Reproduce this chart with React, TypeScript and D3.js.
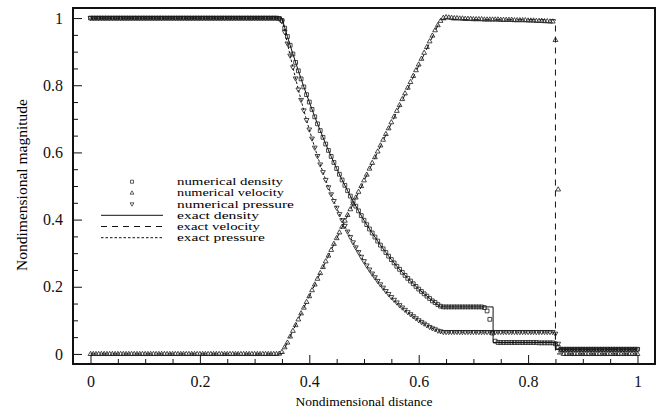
import React, { useEffect, useRef } from "react";
import * as d3 from "d3";

// numerical solution, one value per cell, cells every 0.005 from x = 0 to x = 1
const GRID_STEP = 0.005;

const numericalDensity = [
  1, 1, 1, 1, 1, 1, 1, 1, 1, 1,
  1, 1, 1, 1, 1, 1, 1, 1, 1, 1,
  1, 1, 1, 1, 1, 1, 1, 1, 1, 1,
  1, 1, 1, 1, 1, 1, 1, 1, 1, 1,
  1, 1, 1, 1, 1, 1, 1, 1, 1, 1,
  1, 1, 1, 1, 1, 1, 1, 1, 1, 1,
  1, 1, 1, 1, 1, 1, 1, 1, 1, 0.999,
  0.993, 0.970, 0.945, 0.919, 0.893, 0.868, 0.843, 0.819, 0.795, 0.772,
  0.750, 0.728, 0.706, 0.685, 0.665, 0.645, 0.625, 0.606, 0.588, 0.570,
  0.552, 0.535, 0.518, 0.502, 0.486, 0.470, 0.455, 0.440, 0.426, 0.412,
  0.398, 0.385, 0.372, 0.360, 0.348, 0.336, 0.324, 0.313, 0.302, 0.291,
  0.281, 0.271, 0.261, 0.252, 0.243, 0.234, 0.225, 0.217, 0.209, 0.201,
  0.193, 0.186, 0.179, 0.172, 0.165, 0.158, 0.153, 0.147, 0.142, 0.140,
  0.140, 0.140, 0.140, 0.140, 0.140, 0.140, 0.140, 0.140, 0.140, 0.140,
  0.140, 0.140, 0.140, 0.140, 0.138, 0.128, 0.103, 0.062, 0.038, 0.034,
  0.034, 0.034, 0.034, 0.034, 0.034, 0.034, 0.034, 0.034, 0.034, 0.034,
  0.034, 0.034, 0.034, 0.034, 0.033, 0.033, 0.033, 0.033, 0.033, 0.033,
  0.030, 0.020, 0.014, 0.014, 0.014, 0.014, 0.014, 0.014, 0.014, 0.014,
  0.014, 0.014, 0.014, 0.014, 0.014, 0.014, 0.014, 0.014, 0.014, 0.014,
  0.014, 0.014, 0.014, 0.014, 0.014, 0.014, 0.014, 0.014, 0.014, 0.014,
  0.014,
];

const numericalVelocity = [
  0, 0, 0, 0, 0, 0, 0, 0, 0, 0,
  0, 0, 0, 0, 0, 0, 0, 0, 0, 0,
  0, 0, 0, 0, 0, 0, 0, 0, 0, 0,
  0, 0, 0, 0, 0, 0, 0, 0, 0, 0,
  0, 0, 0, 0, 0, 0, 0, 0, 0, 0,
  0, 0, 0, 0, 0, 0, 0, 0, 0, 0,
  0, 0, 0, 0, 0, 0, 0, 0, 0, 0.001,
  0.006, 0.020, 0.034, 0.052, 0.069, 0.086, 0.103, 0.121, 0.138, 0.155,
  0.172, 0.190, 0.207, 0.224, 0.241, 0.259, 0.276, 0.293, 0.310, 0.328,
  0.345, 0.362, 0.379, 0.397, 0.414, 0.431, 0.448, 0.466, 0.483, 0.500,
  0.517, 0.534, 0.552, 0.569, 0.586, 0.603, 0.621, 0.638, 0.655, 0.672,
  0.690, 0.707, 0.724, 0.741, 0.759, 0.776, 0.793, 0.810, 0.828, 0.845,
  0.862, 0.879, 0.897, 0.914, 0.931, 0.948, 0.964, 0.979, 0.992, 1.001,
  1.003, 1.002, 1.001, 1.000, 1.000, 0.999, 0.999, 0.998, 0.998, 0.998,
  0.997, 0.997, 0.997, 0.997, 0.996, 0.996, 0.996, 0.996, 0.996, 0.996,
  0.995, 0.995, 0.995, 0.995, 0.995, 0.994, 0.994, 0.994, 0.994, 0.994,
  0.993, 0.993, 0.993, 0.992, 0.992, 0.992, 0.991, 0.991, 0.990, 0.990,
  0.935, 0.490, 0.010, 0, 0, 0, 0, 0, 0, 0,
  0, 0, 0, 0, 0, 0, 0, 0, 0, 0,
  0, 0, 0, 0, 0, 0, 0, 0, 0, 0,
  0,
];

const numericalPressure = [
  1, 1, 1, 1, 1, 1, 1, 1, 1, 1,
  1, 1, 1, 1, 1, 1, 1, 1, 1, 1,
  1, 1, 1, 1, 1, 1, 1, 1, 1, 1,
  1, 1, 1, 1, 1, 1, 1, 1, 1, 1,
  1, 1, 1, 1, 1, 1, 1, 1, 1, 1,
  1, 1, 1, 1, 1, 1, 1, 1, 1, 1,
  1, 1, 1, 1, 1, 1, 1, 1, 1, 0.998,
  0.990, 0.958, 0.924, 0.888, 0.853, 0.820, 0.787, 0.756, 0.725, 0.696,
  0.668, 0.641, 0.614, 0.589, 0.564, 0.541, 0.518, 0.496, 0.475, 0.455,
  0.435, 0.416, 0.398, 0.381, 0.364, 0.348, 0.332, 0.317, 0.303, 0.289,
  0.276, 0.263, 0.251, 0.239, 0.228, 0.217, 0.207, 0.197, 0.187, 0.178,
  0.169, 0.161, 0.153, 0.145, 0.138, 0.131, 0.124, 0.118, 0.112, 0.106,
  0.100, 0.095, 0.090, 0.085, 0.080, 0.076, 0.073, 0.069, 0.067, 0.065,
  0.065, 0.065, 0.065, 0.065, 0.065, 0.065, 0.065, 0.065, 0.065, 0.065,
  0.065, 0.065, 0.065, 0.065, 0.065, 0.065, 0.065, 0.065, 0.065, 0.065,
  0.065, 0.065, 0.065, 0.065, 0.065, 0.065, 0.065, 0.065, 0.065, 0.065,
  0.065, 0.065, 0.065, 0.065, 0.065, 0.065, 0.065, 0.065, 0.065, 0.065,
  0.060, 0.030, 0.013, 0.013, 0.013, 0.013, 0.013, 0.013, 0.013, 0.013,
  0.013, 0.013, 0.013, 0.013, 0.013, 0.013, 0.013, 0.013, 0.013, 0.013,
  0.013, 0.013, 0.013, 0.013, 0.013, 0.013, 0.013, 0.013, 0.013, 0.013,
  0.013,
];

// exact solution, as [x, value] breakpoints
const exactDensity = [
  [0, 1], [0.35, 1], [0.36, 0.945], [0.37, 0.893], [0.38, 0.843], [0.39, 0.795],
  [0.40, 0.750], [0.41, 0.706], [0.42, 0.665], [0.43, 0.625], [0.44, 0.588],
  [0.45, 0.552], [0.46, 0.518], [0.47, 0.486], [0.48, 0.455], [0.49, 0.426],
  [0.50, 0.398], [0.51, 0.372], [0.52, 0.348], [0.53, 0.324], [0.54, 0.302],
  [0.55, 0.281], [0.56, 0.261], [0.57, 0.243], [0.58, 0.225], [0.59, 0.209],
  [0.60, 0.193], [0.61, 0.179], [0.62, 0.165], [0.63, 0.152], [0.64, 0.140],
  [0.736, 0.140], [0.736, 0.034], [0.85, 0.034], [0.85, 0.014], [1, 0.014],
];

const exactVelocity = [
  [0, 0], [0.35, 0], [0.64, 0.995], [0.85, 0.995], [0.85, 0], [1, 0],
];

const exactPressure = [
  [0, 1], [0.35, 1], [0.36, 0.924], [0.37, 0.853], [0.38, 0.787], [0.39, 0.725],
  [0.40, 0.668], [0.41, 0.614], [0.42, 0.564], [0.43, 0.518], [0.44, 0.475],
  [0.45, 0.435], [0.46, 0.398], [0.47, 0.364], [0.48, 0.332], [0.49, 0.303],
  [0.50, 0.276], [0.51, 0.251], [0.52, 0.228], [0.53, 0.207], [0.54, 0.187],
  [0.55, 0.169], [0.56, 0.153], [0.57, 0.138], [0.58, 0.124], [0.59, 0.112],
  [0.60, 0.100], [0.61, 0.090], [0.62, 0.080], [0.63, 0.072], [0.64, 0.065],
  [0.85, 0.065], [0.85, 0.013], [1, 0.013],
];

const xTicks = [0, 0.2, 0.4, 0.6, 0.8, 1];
const yTicks = [0, 0.2, 0.4, 0.6, 0.8, 1];
const xTickLabels = ["0", "0.2", "0.4", "0.6", "0.8", "1"];
const yTickLabels = ["0", "0.2", "0.4", "0.6", "0.8", "1"];
const minorTicks = [0.05, 0.1, 0.15, 0.25, 0.3, 0.35, 0.45, 0.5, 0.55, 0.65, 0.7, 0.75, 0.85, 0.9, 0.95];

const markerLabels = ["numerical density", "numerical velocity", "numerical pressure"];
const lineLabels = ["exact density", "exact velocity", "exact pressure"];
// label widths in the figure (the scanned text is wide and short)
const markerLabelWidths = [106, 107, 117];
const lineLabelWidths = [82, 83, 88];

const FONT = "Liberation Serif, Times New Roman, serif";

const square = "M-1.9,-1.9H1.9V1.9H-1.9Z";
const triUp = "M0,-2.6L2.4,1.6L-2.4,1.6Z";
const triDown = "M0,2.6L2.4,-1.6L-2.4,-1.6Z";

const App = () => {
  const svgRef = useRef();

  useEffect(() => {
    const svg = d3.select(svgRef.current);
    svg.selectAll("*").remove();

    const left = 73, right = 655, top = 8, bottom = 364;
    const x = d3.scaleLinear().domain([-0.032, 1.032]).range([left, right]);
    const y = d3.scaleLinear().domain([-0.03, 1.03]).range([bottom, top]);

    // exact lines
    const line = d3.line().x(d => x(d[0])).y(d => y(d[1]));
    const exact = [
      { data: exactDensity, dash: null },
      { data: exactVelocity, dash: "6,5" },
      { data: exactPressure, dash: "2.5,2" },
    ];
    exact.forEach(e => {
      svg.append("path")
        .attr("d", line(e.data))
        .attr("fill", "none")
        .attr("stroke", "#111")
        .attr("stroke-width", 1)
        .attr("stroke-dasharray", e.dash);
    });

    // numerical markers
    const series = [
      { values: numericalDensity, shape: square },
      { values: numericalVelocity, shape: triUp },
      { values: numericalPressure, shape: triDown },
    ];
    series.forEach(s => {
      svg.append("g")
        .selectAll("path")
        .data(s.values)
        .join("path")
        .attr("d", s.shape)
        .attr("transform", (d, i) => `translate(${x(i * GRID_STEP)},${y(d)})`)
        .attr("fill", "none")
        .attr("stroke", "#1a1a1a")
        .attr("stroke-width", 0.8);
    });

    // axes
    const xMinor = svg.append("g").attr("transform", `translate(0,${bottom})`)
      .call(d3.axisBottom(x).tickValues(minorTicks).tickSize(-5).tickFormat(""));
    const xMajor = svg.append("g").attr("transform", `translate(0,${bottom})`)
      .call(d3.axisBottom(x).tickValues(xTicks).tickSize(-9).tickPadding(12)
        .tickFormat((d, i) => xTickLabels[i]));
    const yMinor = svg.append("g").attr("transform", `translate(${left},0)`)
      .call(d3.axisLeft(y).tickValues(minorTicks).tickSize(-5).tickFormat(""));
    const yMajor = svg.append("g").attr("transform", `translate(${left},0)`)
      .call(d3.axisLeft(y).tickValues(yTicks).tickSize(-9).tickPadding(10)
        .tickFormat((d, i) => yTickLabels[i]));

    [xMinor, xMajor, yMinor, yMajor].forEach(g => {
      g.select(".domain").remove();
      g.selectAll("line").attr("stroke", "#111").attr("stroke-width", 1);
      g.attr("font-family", FONT).attr("font-size", 16);
      g.selectAll("text").attr("fill", "#111");
    });

    // frame
    svg.append("rect")
      .attr("x", left).attr("y", top)
      .attr("width", right - left).attr("height", bottom - top)
      .attr("fill", "none")
      .attr("stroke", "#111")
      .attr("stroke-width", 2);

    // axis titles
    svg.append("text")
      .attr("x", 364).attr("y", 406)
      .attr("text-anchor", "middle")
      .attr("font-family", FONT).attr("font-size", 13.5)
      .text("Nondimensional distance");
    svg.append("text")
      .attr("transform", "translate(27,185) rotate(-90)")
      .attr("text-anchor", "middle")
      .attr("font-family", FONT).attr("font-size", 15.5)
      .text("Nondimensional magnitude");

    // legend
    const rowY = i => 181.7 + i * 11.2;
    const textX = 177;
    const legendShapes = [square, triUp, triDown];
    const legendText = (label, i, w) => {
      const t = svg.append("text")
        .attr("font-family", FONT).attr("font-size", 10)
        .text(label);
      // stretch horizontally to the width the label has in the figure
      const len = t.node().getComputedTextLength() || w;
      t.attr("transform", `translate(${textX},${rowY(i) + 3.4}) scale(${w / len},1)`);
    };

    markerLabels.forEach((label, i) => {
      svg.append("path")
        .attr("d", legendShapes[i])
        .attr("transform", `translate(132,${rowY(i)}) scale(0.8)`)
        .attr("fill", "none").attr("stroke", "#222").attr("stroke-width", 0.9);
      legendText(label, i, markerLabelWidths[i]);
    });
    const legendDash = [null, "6,5", "2.5,2"];
    lineLabels.forEach((label, j) => {
      const i = j + 3;
      svg.append("line")
        .attr("x1", 101).attr("x2", 163)
        .attr("y1", rowY(i)).attr("y2", rowY(i))
        .attr("stroke", "#111").attr("stroke-width", 1)
        .attr("stroke-dasharray", legendDash[j]);
      legendText(label, i, lineLabelWidths[j]);
    });
  }, []);

  return (
    <svg
      ref={svgRef}
      width={671}
      height={411}
      style={{ position: "absolute", left: 0, top: 0, background: "#fff" }}
    />
  );
};

export default App;
